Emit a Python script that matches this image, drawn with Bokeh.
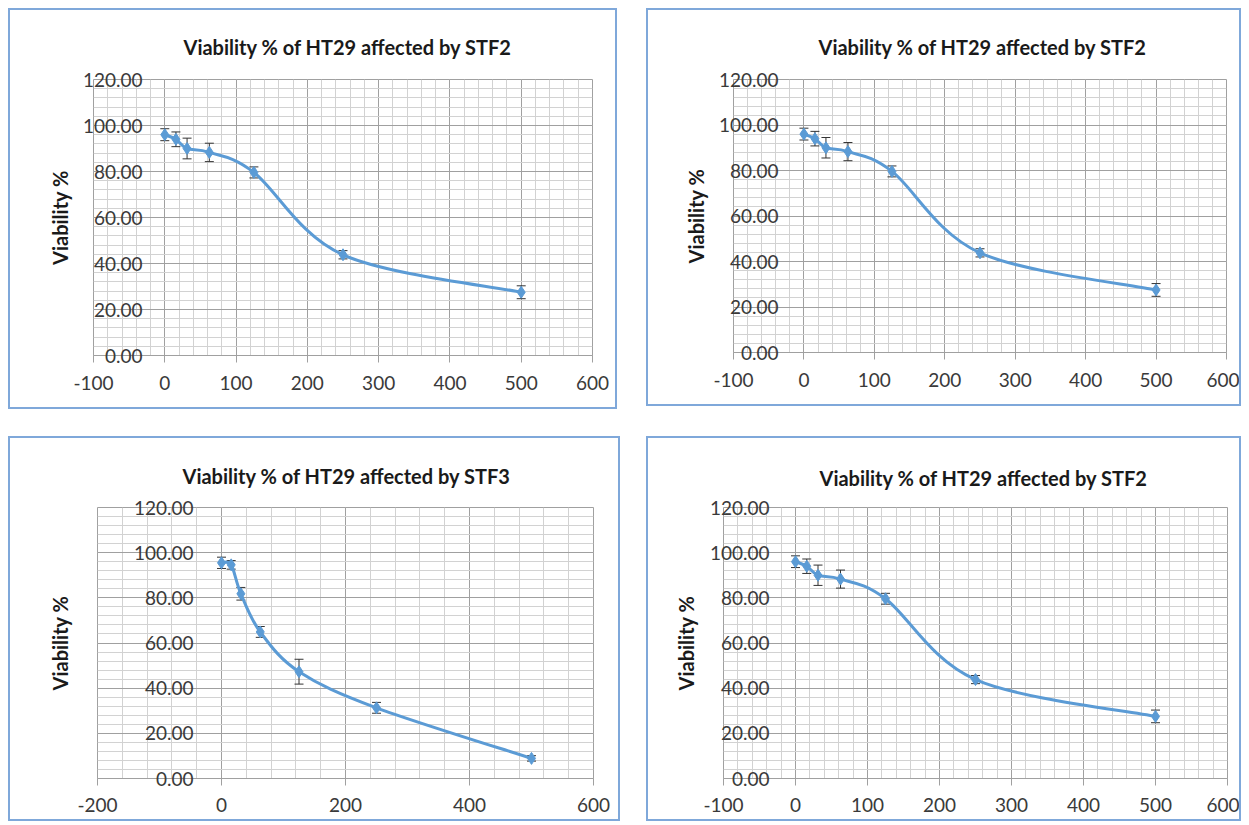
from bokeh.plotting import figure
from bokeh.models import (Range1d, SingleIntervalTicker, ColumnDataSource, Whisker,
                          TeeHead, Title)
from bokeh.layouts import column, row
from bokeh.embed import file_html
from bokeh.resources import INLINE

# ---------------- data ----------------
conc = [0, 15.625, 31.25, 62.5, 125, 250, 500]

stf2_mean = [96.0, 94.0, 90.0, 88.3, 79.6, 43.8, 27.5]
stf2_err = [2.6, 3.2, 4.5, 4.0, 2.4, 1.8, 2.8]

stf3_mean = [95.5, 94.6, 81.8, 64.9, 47.3, 31.3, 8.9]
stf3_err = [2.5, 1.9, 2.8, 2.4, 5.5, 2.4, 1.2]

titles = ["Viability % of HT29 affected by STF2",
          "Viability % of HT29 affected by STF2",
          "Viability % of HT29 affected by STF3",
          "Viability % of HT29 affected by STF2"]

x_ticks_100 = [-100, 0, 100, 200, 300, 400, 500, 600]
x_labels_100 = ["-100", "0", "100", "200", "300", "400", "500", "600"]
x_ticks_200 = [-200, 0, 200, 400, 600]
x_labels_200 = ["-200", "0", "200", "400", "600"]

y_ticks = [0, 20, 40, 60, 80, 100, 120]
y_tick_labels = ["0.00", "20.00", "40.00", "60.00", "80.00", "100.00", "120.00"]
y_axis_title = "Viability %"

# ---------------- style ----------------
FONT = "Lato"
LINE_BLUE = "#5b9bd5"
MAJOR = "#a0a0a0"
MINOR = "#d2d2d2"
BOX = "#7fa8da"
LABEL_W = 60  # approx. width of the widest y tick label


def smooth_segments(xs, ys, t=1.0 / 6.0):
    """Excel-like smoothed line as cubic Bezier segments (control points from neighbours)."""
    n = len(xs)
    seg = {k: [] for k in ("x0", "y0", "x1", "y1", "cx0", "cy0", "cx1", "cy1")}
    for i in range(n - 1):
        xp, yp = (xs[i - 1], ys[i - 1]) if i > 0 else (xs[i], ys[i])
        xn, yn = (xs[i + 2], ys[i + 2]) if i + 2 < n else (xs[i + 1], ys[i + 1])
        seg["x0"].append(xs[i]); seg["y0"].append(ys[i])
        seg["x1"].append(xs[i + 1]); seg["y1"].append(ys[i + 1])
        seg["cx0"].append(xs[i] + (xs[i + 1] - xp) * t)
        seg["cy0"].append(ys[i] + (ys[i + 1] - yp) * t)
        seg["cx1"].append(xs[i + 1] - (xn - xs[i]) * t)
        seg["cy1"].append(ys[i + 1] - (yn - ys[i]) * t)
    return seg


def make_panel(title, xs, ys, errs, x_ticks, x_labels, w, h,
               mb_left, mb_right, mb_top, mb_bottom,
               title_left, title_standoff, ylabel_center, label_gap, xlab_standoff):
    x_start, x_end = x_ticks[0], x_ticks[-1]
    x_major = x_ticks[1] - x_ticks[0]
    p = figure(width=w, height=h, x_range=Range1d(x_start, x_end), y_range=Range1d(0, 120),
               output_backend="svg", toolbar_location=None,
               min_border_left=mb_left, min_border_right=mb_right,
               min_border_top=mb_top, min_border_bottom=mb_bottom,
               background_fill_color="white", border_fill_color="white",
               styles={"border": "2px solid " + BOX})
    p.title = Title(text=title, align="left", offset=title_left - 5,
                    vertical_align="top", standoff=title_standoff,
                    text_font=FONT, text_font_size="20px", text_font_style="bold",
                    text_color="#1a1a1a")

    p.outline_line_color = MAJOR
    p.outline_line_width = 1

    # x axis
    xa = p.below[0]
    xt = SingleIntervalTicker(interval=x_major, num_minor_ticks=5)
    xa.ticker = xt
    p.xgrid.ticker = xt
    xa.major_label_overrides = dict(zip(x_ticks, x_labels))
    xa.axis_line_color = MAJOR
    xa.major_tick_line_color = MAJOR
    xa.major_tick_out = 7
    xa.major_tick_in = 0
    xa.minor_tick_line_color = None
    xa.major_label_standoff = xlab_standoff
    xa.major_label_text_font = FONT
    xa.major_label_text_font_size = "19px"
    xa.major_label_text_color = "#3a3a3a"

    # y axis: tick labels sit next to the x=0 crossing, Excel style
    frame_w = w - 4 - mb_left - mb_right
    zero_px = (0 - x_start) / (x_end - x_start) * frame_w
    s = -int(round(zero_px - label_gap))
    ya = p.left[0]
    yt = SingleIntervalTicker(interval=20, num_minor_ticks=5)
    ya.ticker = yt
    p.ygrid.ticker = yt
    ya.major_label_overrides = dict(zip(y_ticks, y_tick_labels))
    ya.axis_line_color = None
    ya.major_tick_line_color = None
    ya.major_tick_out = 0
    ya.major_tick_in = 0
    ya.minor_tick_line_color = None
    ya.major_label_standoff = s
    ya.major_label_text_font = FONT
    ya.major_label_text_font_size = "19px"
    ya.major_label_text_color = "#3a3a3a"
    ya.axis_label = y_axis_title
    ya.axis_label_standoff = max(0, int(round(ylabel_center - 16 - (s + LABEL_W))))
    ya.axis_label_text_font = FONT
    ya.axis_label_text_font_size = "20px"
    ya.axis_label_text_font_style = "bold"
    ya.axis_label_text_color = "#1a1a1a"

    for g in (p.xgrid, p.ygrid):
        g.grid_line_color = MAJOR
        g.grid_line_width = 1
        g.minor_grid_line_color = MINOR
        g.minor_grid_line_width = 1

    seg = smooth_segments(xs, ys)
    p.bezier(x0=seg["x0"], y0=seg["y0"], x1=seg["x1"], y1=seg["y1"],
             cx0=seg["cx0"], cy0=seg["cy0"], cx1=seg["cx1"], cy1=seg["cy1"],
             line_color=LINE_BLUE, line_width=3)
    p.scatter(xs, ys, marker="diamond", size=12, fill_color=LINE_BLUE, line_color=LINE_BLUE)

    err_src = ColumnDataSource(dict(x=xs,
                                    upper=[m + e for m, e in zip(ys, errs)],
                                    lower=[m - e for m, e in zip(ys, errs)]))
    p.add_layout(Whisker(base="x", upper="upper", lower="lower", source=err_src,
                         line_color="#333333", line_width=1,
                         upper_head=TeeHead(size=9, line_color="#333333", line_width=1),
                         lower_head=TeeHead(size=9, line_color="#333333", line_width=1)))
    return p


p1 = make_panel(titles[0], conc, stf2_mean, stf2_err, x_ticks_100, x_labels_100, 609, 401,
                83, 27, 69, 54, 95, 38, 31, 18, 13)
p2 = make_panel(titles[1], conc, stf2_mean, stf2_err, x_ticks_100, x_labels_100, 595, 398,
                85, 17, 67, 56, 90, 38, 35, 21, 13)
p3 = make_panel(titles[2], conc, stf3_mean, stf3_err, x_ticks_200, x_labels_200, 612, 385,
                87, 29, 69, 44, 90, 35, 35, 23, 12)
p4 = make_panel(titles[3], conc, stf2_mean, stf2_err, x_ticks_100, x_labels_100, 595, 385,
                75, 16, 69, 45, 101, 31, 35, 21, 12)

layout = column(row(p1, p2, spacing=29), row(p3, p4, spacing=26), spacing=27,
                margin=(8, 0, 0, 8))

open("out.html", "w").write(file_html(layout, INLINE))
